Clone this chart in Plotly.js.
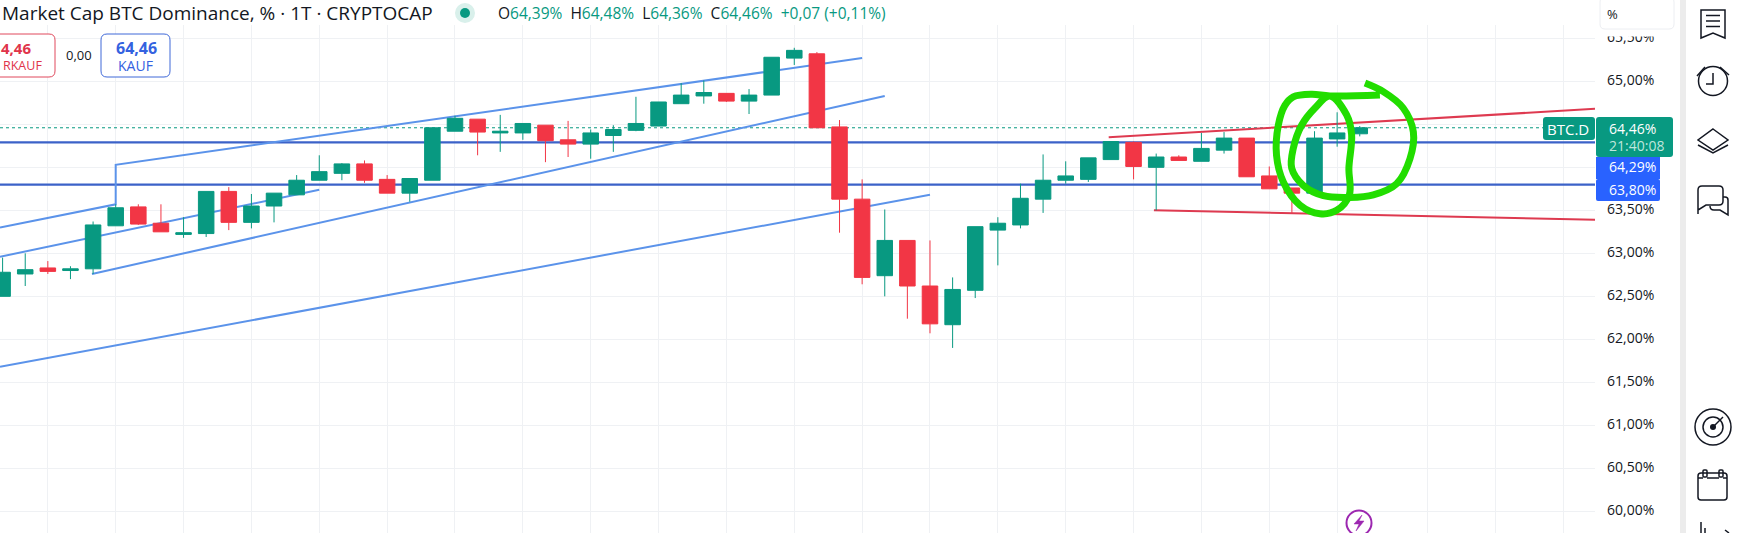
<!DOCTYPE html>
<html><head><meta charset="utf-8">
<script src="https://cdn.plot.ly/plotly-3.0.0.min.js"></script>
<style>html,body{margin:0;padding:0;background:#fff;overflow:hidden}#c{width:1738px;height:533px}</style>
</head><body><div id="c"></div>
<script>
const candleIndex=[0,1,2,3,4,5,6,7,8,9,10,11,12,13,14,15,16,17,18,19,20,21,22,23,24,25,26,27,28,29,30,31,32,33,34,35,36,37,38,39,40,41,42,43,44,45,46,47,48,49,50,51,52,53,54,55,56,57,58,59,60];
const open=[62.50,62.76,62.83,62.80,62.82,63.32,63.54,63.35,63.22,63.23,63.72,63.36,63.55,63.68,63.85,63.93,64.04,63.86,63.70,63.85,64.42,64.56,64.40,64.40,64.49,64.32,64.27,64.37,64.43,64.48,64.74,64.83,64.86,64.77,64.84,65.27,65.32,64.47,63.63,62.74,63.15,62.62,62.17,62.57,63.27,63.33,63.63,63.85,63.86,64.09,64.29,64.00,64.12,64.07,64.20,64.34,63.90,63.76,63.70,64.33,64.39];
const high=[62.95,63.00,62.91,62.85,63.37,63.57,63.57,63.57,63.42,63.72,63.77,63.69,63.70,63.91,64.14,64.05,64.08,63.91,63.87,64.46,64.60,64.56,64.61,64.51,64.49,64.54,64.44,64.49,64.82,64.76,64.98,65.01,64.86,64.91,65.28,65.39,65.34,64.55,63.86,63.51,63.15,63.15,62.72,63.31,63.42,63.81,64.15,64.07,64.11,64.30,64.30,64.16,64.14,64.40,64.41,64.34,64.01,63.76,64.42,64.64,64.48];
const low=[62.50,62.62,62.76,62.70,62.76,63.32,63.33,63.25,63.18,63.19,63.27,63.29,63.36,63.68,63.85,63.85,63.82,63.70,63.60,63.85,64.42,64.14,64.18,64.32,64.06,64.12,64.10,64.18,64.42,64.48,64.74,64.74,64.76,64.62,64.84,65.19,64.46,63.24,62.64,62.50,62.24,62.07,61.90,62.48,62.86,63.29,63.47,63.81,63.83,64.09,63.86,63.50,64.08,64.07,64.16,63.89,63.75,63.47,63.70,64.24,64.36];
const close=[62.78,62.81,62.79,62.82,63.33,63.53,63.34,63.25,63.24,63.72,63.36,63.55,63.70,63.85,63.95,64.04,63.85,63.70,63.87,64.46,64.57,64.41,64.42,64.51,64.31,64.27,64.40,64.44,64.51,64.76,64.84,64.87,64.77,64.84,65.28,65.36,64.46,63.63,62.72,63.15,62.62,62.18,62.58,63.31,63.35,63.64,63.85,63.90,64.11,64.30,64.01,64.12,64.08,64.22,64.34,63.89,63.75,63.70,64.34,64.40,64.46];

const channelUpperLeftX=[-0.115,5,5,38];
const channelUpperLeftY=[63.30,63.57,64.03,65.27];
const channelMidLeftX=[-0.115,14];
const channelMidLeftY=[62.96,63.74];
const channelMidRightX=[3.95,39];
const channelMidRightY=[62.76,64.83];
const channelLowX=[-0.115,41];
const channelLowY=[61.68,63.68];
const wedgeTopX=[48.9,70.4];
const wedgeTopY=[64.35,64.68];
const wedgeBottomX=[50.9,70.4];
const wedgeBottomY=[63.50,63.39];
const levelX=[-0.115,70.4];
const levelHigh=[64.29,64.29];
const levelLow=[63.80,63.80];
const lastPrice=[64.46,64.46];
const scribbleX=[60.23,61.04,61.92,62.37,62.22,61.63,60.60,59.57,58.39,57.50,56.99,57.06,57.43,58.02,58.68,59.42,59.64,59.52,59.54,58.98,58.24,57.36,56.62,56.32,56.40,56.69,57.06,57.87,58.68,60.89];
const scribbleY=[64.98,64.88,64.69,64.41,64.10,63.81,63.68,63.65,63.67,63.79,63.99,64.22,64.49,64.69,64.83,64.61,64.38,63.99,63.68,63.50,63.46,63.56,63.83,64.14,64.49,64.72,64.82,64.85,64.83,64.84];

const gridX=[2,5,8,11,14,17,20,23,26,29,32,35,38,41,44,47,50,53,56,59,63,66,69];
const tickVals=[60,60.5,61,61.5,62,62.5,63,63.5,64,64.5,65,65.5];
const tickText=['60,00%','60,50%','61,00%','61,50%','62,00%','62,50%','63,00%','63,50%','','','65,00%','65,50%'];

const W=1738,H=533,FONT='"Open Sans", "Noto Sans", sans-serif';
const GREEN='#089981',RED='#F23645',BLUE='#2962FF',CH='#5b93ea',LVL='#3b62c8',WEDGE='#de3a50',INK='#131722';
const px=x=>x/W, py=y=>1-y/H;
function path(d,opt){
  const conv=d.replace(/(-?[\d.]+)[ ,](-?[\d.]+)/g,(m,a,b)=>px(+a)+' '+py(+b));
  return Object.assign({type:'path',xref:'paper',yref:'paper',path:conv,layer:'above',line:{color:INK,width:1.5},fillcolor:'rgba(0,0,0,0)'},opt||{});
}
function rect(x0,y0,x1,y1,fill,line){return {type:'rect',xref:'paper',yref:'paper',x0:px(x0),x1:px(x1),y0:py(y0),y1:py(y1),fillcolor:fill,line:line||{width:0},layer:'above'};}
function circ(cx,cy,r,fill,line){return {type:'circle',xref:'paper',yref:'paper',x0:px(cx-r),x1:px(cx+r),y0:py(cy+r),y1:py(cy-r),fillcolor:fill,line:line||{width:0},layer:'above'};}
function rrect(x0,y0,x1,y1,r,opt){return path(`M${x0+r} ${y0} L${x1-r} ${y0} Q${x1} ${y0} ${x1} ${y0+r} L${x1} ${y1-r} Q${x1} ${y1} ${x1-r} ${y1} L${x0+r} ${y1} Q${x0} ${y1} ${x0} ${y1-r} L${x0} ${y0+r} Q${x0} ${y0} ${x0+r} ${y0} Z`,opt);}
function txt(x,y,text,size,color,anchor,extra){return Object.assign({xref:'paper',yref:'paper',x:px(x),y:py(y),xanchor:anchor||'left',yanchor:'middle',text:text,showarrow:false,font:{family:FONT,size:size,color:color||INK}},extra||{});}

const line=(x,y,color,width,dash)=>({type:'scatter',mode:'lines',x:x,y:y,xaxis:'x',yaxis:'y',hoverinfo:'skip',line:{color:color,width:width,dash:dash||'solid'}});
const traces=[
 line(levelX,lastPrice,GREEN,1,'dot'),
 line(levelX,levelHigh,LVL,2.2),
 line(levelX,levelLow,LVL,2.2),
 line(channelUpperLeftX,channelUpperLeftY,CH,2),
 line(channelMidLeftX,channelMidLeftY,CH,2),
 line(channelMidRightX,channelMidRightY,CH,2),
 line(channelLowX,channelLowY,CH,2),
 line(wedgeTopX,wedgeTopY,WEDGE,2),
 line(wedgeBottomX,wedgeBottomY,WEDGE,2),
 {type:'candlestick',x:candleIndex,open:open,high:high,low:low,close:close,xaxis:'x2',yaxis:'y2',
  increasing:{line:{color:GREEN,width:1},fillcolor:GREEN},decreasing:{line:{color:RED,width:1},fillcolor:RED},whiskerwidth:0,hoverinfo:'skip'},
 {type:'scatter',mode:'lines',x:scribbleX,y:scribbleY,xaxis:'x3',yaxis:'y3',hoverinfo:'skip',line:{color:'#22dd00',width:7,shape:'spline',smoothing:1}}
];
const XR=[-0.115,70.4],YR=[59.748,65.655],XD=[0,1595/W],YD=[0,1-25/H];
const hid={showgrid:false,zeroline:false,showline:false,showticklabels:false,ticks:'',fixedrange:true};
const shapes=[
 rect(1596,0,1680,36.5,'#ffffff'),
 rrect(1600,-3,1674,29,5,{line:{color:'#eceef2',width:1},fillcolor:'#ffffff'}),
 rect(1680,0,1686,H,'#ececec'),
 rrect(-20,34,55,77,6,{line:{color:'#e0495c',width:1},fillcolor:'#ffffff'}),
 rrect(101,34,170,77,6,{line:{color:'#3f68d8',width:1},fillcolor:'#ffffff'}),
 circ(465,13,10,'#d9f0eb'),circ(465,13,5,GREEN),
 rrect(1543,117,1595,140,3,{line:{width:0},fillcolor:GREEN}),
 rrect(1596,117,1673,157,3,{line:{width:0},fillcolor:GREEN}),
 rect(1596,157,1660,179,BLUE),
 rrect(1596,179,1660,201,2,{line:{width:0},fillcolor:BLUE}),
 path('M1701 10 L1725 10 L1725 38 L1713 33 L1701 38 Z'),
 path('M1706 15.5 L1720 15.5'),path('M1706 21 L1720 21'),path('M1706 26.5 L1720 26.5'),
 circ(1713,81,14.5,'rgba(0,0,0,0)',{color:INK,width:1.5}),
 path('M1713 73 L1713 84 L1706 84'),path('M1697 76 L1705 67'),path('M1720 67 L1729 75'),
 path('M1713 129 L1728 140 L1713 150 L1698 140 Z'),path('M1698 145 L1713 153 L1728 145'),
 path('M1698 214 L1698 190 Q1698 186 1702 186 L1719 186 Q1723 186 1723 190 L1723 201 Q1723 205 1719 205 L1706 205 L1698 210 Z'),
 path('M1723 197 L1725 197 Q1728 197 1728 200 L1728 215 L1720 210 L1714 210 Q1710 210 1710 206'),
 circ(1713,427,18,'rgba(0,0,0,0)',{color:INK,width:1.5}),
 circ(1713,427,10,'rgba(0,0,0,0)',{color:INK,width:1.5}),
 circ(1713,427,3,INK),
 path('M1713 427 L1723 417'),
 rrect(1698,473,1727,500,3),
 path('M1698 478 L1703 478'),path('M1707 478 L1719 478'),path('M1723 478 L1727 478'),
 rrect(1703,470,1707,477,1),rrect(1719,470,1723,477,1),
 path('M1701 522 L1701 533'),path('M1705 528 L1705 533'),path('M1725 530 L1729 533'),
 circ(1359,523,12.5,'#ffffff',{color:'#9c27b0',width:2}),
 path('M1362 515 L1354 524 L1359 524 L1356 531 L1364 521 L1359 521 Z',{line:{color:'#9c27b0',width:.5},fillcolor:'#9c27b0'})
];
const g='<span style="color:'+GREEN+'">', e='</span>';
const annotations=[
 txt(0,13,'Market Cap BTC Dominance, % · 1T · CRYPTOCAP',19,INK),
 txt(496,13,'O'+g+'64,39%'+e+'  H'+g+'64,48%'+e+'  L'+g+'64,36%'+e+'  C'+g+'64,46%'+e+'  '+g+'+0,07 (+0,11%)'+e,15.5,INK),
 txt(33,48,'4,46',15,RED,'right',{font:{family:FONT,size:15,color:'#e0344a',weight:700}}),
 txt(44,66,'RKAUF',12.5,'#e0344a','right'),
 txt(78.5,55,'0,00',13,INK,'center'),
 txt(136,48,'64,46',16,BLUE,'center',{font:{family:FONT,size:16,color:'#3462e0',weight:700}}),
 txt(135.5,66,'KAUF',14,'#3462e0','center'),
 txt(1605,14,'%',13,INK),
 txt(1568,128.5,'BTC.D',15,'#ffffff','center'),
 txt(1607,128,'64,46%',14,'#ffffff'),
 txt(1607,146,'21:40:08',14,'#bfe6dc'),
 txt(1607,167,'64,29%',14,'#ffffff'),
 txt(1607,189,'63,80%',14,'#ffffff')
];
const layout={
 width:W,height:H,margin:{l:0,r:0,t:0,b:0,pad:0},paper_bgcolor:'#fff',plot_bgcolor:'#fff',showlegend:false,hovermode:false,boxgap:0.02,
 xaxis:{domain:XD,range:XR,tickvals:gridX,showticklabels:false,ticks:'',showgrid:true,gridcolor:'#eff1f4',gridwidth:1,zeroline:false,showline:false,fixedrange:true},
 yaxis:{domain:YD,range:YR,side:'right',anchor:'x',tickvals:tickVals,ticktext:tickText,ticks:'',ticklabelstandoff:11,ticklabelshift:-1,showgrid:true,gridcolor:'#eff1f4',gridwidth:1,zeroline:false,showline:false,fixedrange:true,tickfont:{family:FONT,size:14,color:INK}},
 xaxis2:Object.assign({domain:XD,range:XR,overlaying:'x',anchor:'y2',rangeslider:{visible:false}},hid),
 yaxis2:Object.assign({domain:YD,range:YR,overlaying:'y',anchor:'x2'},hid),
 xaxis3:Object.assign({domain:XD,range:XR,overlaying:'x',anchor:'y3'},hid),
 yaxis3:Object.assign({domain:YD,range:YR,overlaying:'y',anchor:'x3'},hid),
 shapes:shapes,annotations:annotations
};
Plotly.newPlot('c',traces,layout,{displayModeBar:false,staticPlot:true});
</script></body></html>
